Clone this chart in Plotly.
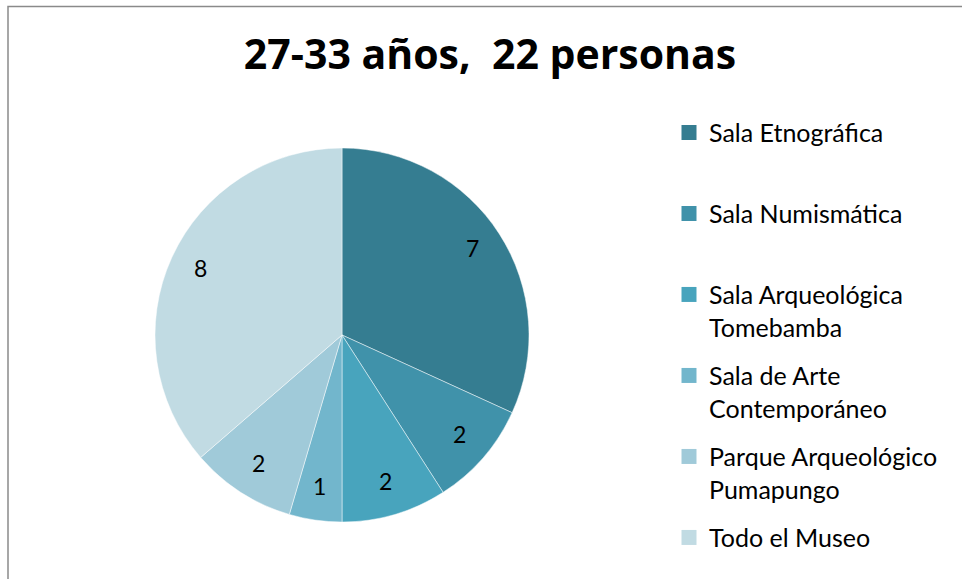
import math
import plotly.graph_objects as go

W, H = 962, 579

title_text = "27-33 años,  22 personas"
categories = [
    "Sala Etnográfica",
    "Sala Numismática",
    "Sala Arqueológica<br>Tomebamba",
    "Sala de Arte<br>Contemporáneo",
    "Parque Arqueológico<br>Pumapungo",
    "Todo el Museo",
]
values = [7, 2, 2, 1, 2, 8]
colors = ["#357D91", "#4092AA", "#48A4BD", "#72B6CC", "#A0CAD9", "#C1DBE3"]

FONT = "Lato"
TITLE_FONT = "Open Sans"
LEG_SIZE = 25

# pie geometry (pixels)
CX, CY, R = 342, 335, 187
LABEL_FRAC = 0.83

fig = go.Figure()

pie_labels = [c.replace("<br>", " ") for c in categories]
fig.add_trace(go.Pie(
    labels=pie_labels,
    values=values,
    sort=False,
    direction="clockwise",
    rotation=0,
    marker=dict(colors=colors, line=dict(color="rgba(255,255,255,0.6)", width=0.8)),
    textinfo="none",
    domain=dict(x=[(CX - R) / W, (CX + R) / W], y=[1 - (CY + R) / H, 1 - (CY - R) / H]),
    showlegend=False,
    hoverinfo="label+value+percent",
))

# data labels placed at each slice's mid-angle (derived from the values)
total = sum(values)
annotations = []
cum = 0
for v in values:
    mid = (cum + v / 2) / total * 2 * math.pi
    cum += v
    px = CX + LABEL_FRAC * R * math.sin(mid)
    py = CY - LABEL_FRAC * R * math.cos(mid)
    annotations.append(dict(
        x=px / W, y=1 - (py - 3) / H, xref="paper", yref="paper",
        text=str(v), showarrow=False, xanchor="center", yanchor="middle",
        font=dict(family=FONT, size=23, color="#000000"),
    ))

# legend entries
for lab, col in zip(categories, colors):
    text = lab if "<br>" in lab else lab + "<br>\u00a0"
    fig.add_trace(go.Scatter(
        x=[None], y=[None], mode="markers", name=text,
        marker=dict(symbol="square", size=15, color=col),
        legendgroup=lab, showlegend=True, hoverinfo="skip",
    ))

fig.update_layout(
    width=W, height=H,
    margin=dict(l=0, r=0, t=0, b=0, autoexpand=False),
    paper_bgcolor="white", plot_bgcolor="white",
    font=dict(family=FONT, color="#000000"),
    title=dict(
        text="<b>" + title_text + "</b>",
        x=490 / W, xanchor="center",
        y=1 - 55 / H, yanchor="middle",
        font=dict(family=TITLE_FONT, size=41, color="#000000"),
    ),
    xaxis=dict(visible=False),
    yaxis=dict(visible=False),
    legend=dict(
        x=669 / W, xanchor="left",
        y=1 - 109.7 / H, yanchor="top",
        traceorder="grouped",
        tracegroupgap=13,
        valign="top",
        font=dict(family=FONT, size=LEG_SIZE, color="#000000"),
        bgcolor="rgba(0,0,0,0)",
    ),
    annotations=annotations,
    shapes=[dict(
        type="rect", xref="paper", yref="paper",
        x0=8 / W, x1=1.02, y0=-0.02, y1=1 - 6.5 / H,
        line=dict(color="#8a8a8a", width=1.5),
        fillcolor="rgba(0,0,0,0)", layer="below",
    )],
)

fig.write_html(
    "out.html",
    config={"displayModeBar": False},
    post_script="document.body.style.margin='0';document.body.style.overflow='hidden';",
)
